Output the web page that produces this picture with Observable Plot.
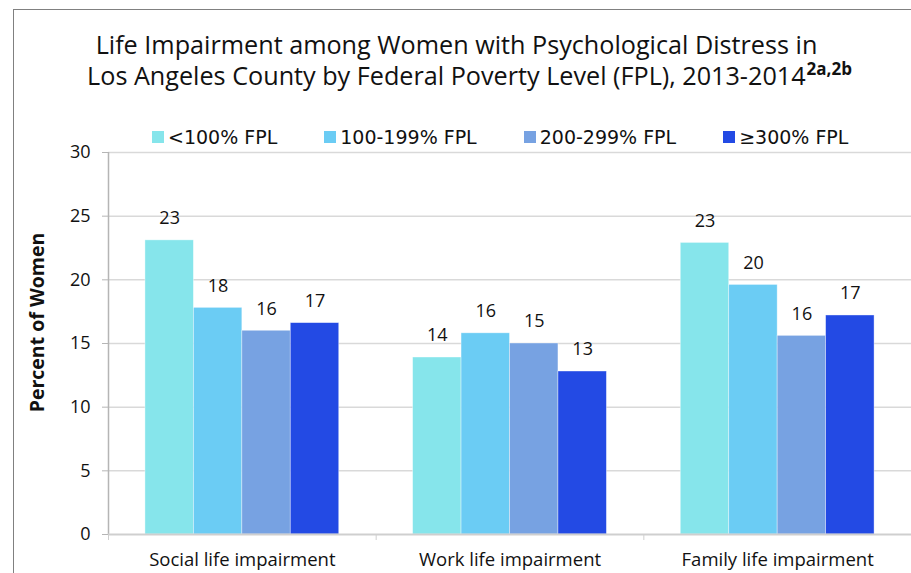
<!DOCTYPE html>
<html>
<head>
<meta charset="utf-8">
<script src="https://cdn.jsdelivr.net/npm/d3@7"></script>
<script src="https://cdn.jsdelivr.net/npm/@observablehq/plot@0.6"></script>
<style>
  html, body { margin: 0; padding: 0; background: #fff; }
  #wrap { position: relative; width: 911px; height: 573px; overflow: hidden; font-family: "Open Sans", sans-serif; color: #111; }
  #header { position: relative; height: 136px; }
  #title { position: absolute; left: 0; width: 911px; top: 29px; font-size: 25.2px; line-height: 31px; text-align: center; color: #111; }
  #title sup { font-size: 17px; font-weight: bold; vertical-align: 0; position: relative; top: -10px; margin-left: 1px; }
  #legend { position: absolute; left: 152px; top: 127px; display: flex; gap: 47px; font-family: "DejaVu Sans", sans-serif; font-size: 19px; line-height: 20px; z-index: 1; }
  .item { display: flex; align-items: center; }
  .sw { width: 12px; height: 12px; margin-right: 4px; }
  #frame { position: absolute; left: 13px; top: 9px; right: -2px; bottom: -2px; border-left: 1.5px solid #808080; border-top: 1.5px solid #808080; pointer-events: none; z-index: 2; }
  #chart svg { display: block; }
</style>
</head>
<body>
<div id="wrap">
  <div id="header">
    <div id="title">
      <div style="transform: translateX(1px)">Life Impairment among Women with Psychological Distress in</div>
      <div style="transform: translateX(14px)">Los Angeles County by Federal Poverty Level (FPL), 2013-2014<sup>2a,2b</sup></div>
    </div>
    <div id="legend"></div>
  </div>
  <div id="chart"></div>
  <div id="frame"></div>
</div>
<script>
const categories = ["Social life impairment", "Work life impairment", "Family life impairment"];
const series = ["<100% FPL", "100-199% FPL", "200-299% FPL", "≥300% FPL"];
const colors = ["#86E5EB", "#6BCCF4", "#77A2E2", "#234AE4"];
const valuesBelow100 = [23.1, 13.9, 22.9];
const values100to199 = [17.8, 15.8, 19.6];
const values200to299 = [16.0, 15.0, 15.6];
const values300plus = [16.6, 12.8, 17.2];
const yTicks = [0, 5, 10, 15, 20, 25, 30];

const seriesValues = [valuesBelow100, values100to199, values200to299, values300plus];

// legend
const legend = document.getElementById("legend");
series.forEach((s, i) => {
  const it = document.createElement("div");
  it.className = "item";
  const sw = document.createElement("span");
  sw.className = "sw";
  sw.style.background = colors[i];
  const tx = document.createElement("span");
  tx.textContent = s;
  it.appendChild(sw); it.appendChild(tx);
  legend.appendChild(it);
});

// table: each group spans [g, g+1] on a linear x scale; bars split the inner part
const groupPad = 0.138;
const barW = (1 - 2 * groupPad) / series.length;
const table = [];
categories.forEach((c, g) => {
  series.forEach((s, i) => {
    const x1 = g + groupPad + i * barW;
    table.push({category: c, series: s, value: seriesValues[i][g], x1, x2: x1 + barW});
  });
});

const chart = Plot.plot({
  width: 911,
  height: 437,
  marginTop: 16,
  marginBottom: 39,
  marginLeft: 108,
  marginRight: 0,
  style: {background: "transparent", fontFamily: "'Open Sans', sans-serif", color: "#111", overflow: "visible"},
  x: {type: "linear", domain: [0, categories.length], axis: null},
  y: {domain: [0, 30], axis: null},
  color: {domain: series, range: colors},
  marks: [
    Plot.gridY(yTicks.filter(t => t > 0), {stroke: "#d9d9d9", strokeOpacity: 1, strokeWidth: 1.5}),
    Plot.rectY(table, {x1: "x1", x2: "x2", y: "value", fill: "series", stroke: "white", strokeOpacity: 0.5, strokeWidth: 0.75}),
    Plot.text(table, {x: d => (d.x1 + d.x2) / 2, y: "value", text: d => String(Math.round(d.value)), dy: -22, fontSize: 18, fill: "#111"}),
    Plot.ruleX([0], {stroke: "#b5b5b5", strokeWidth: 1.5}),
    Plot.ruleY([0], {stroke: "#cfcfcf", strokeWidth: 2}),
    Plot.axisY({ticks: yTicks, tickSize: 6, tickPadding: 12, fontSize: 18, stroke: "#b5b5b5", label: null}),
    Plot.axisX({ticks: d3.range(categories.length + 1), tickSize: 6, tickFormat: () => "", stroke: "#cfcfcf", label: null}),
    Plot.axisX({ticks: categories.map((c, i) => i + 0.5), tickSize: 0, tickPadding: 18, fontSize: 18.5, tickFormat: v => categories[Math.floor(v)], label: null}),
    Plot.text(["Percent of Women"], {frameAnchor: "left", textAnchor: "middle", rotate: -90, dx: -71, dy: -21, fontSize: 19.5, fontWeight: "bold", fill: "#111"})
  ]
});
document.getElementById("chart").appendChild(chart);
</script>
</body>
</html>
